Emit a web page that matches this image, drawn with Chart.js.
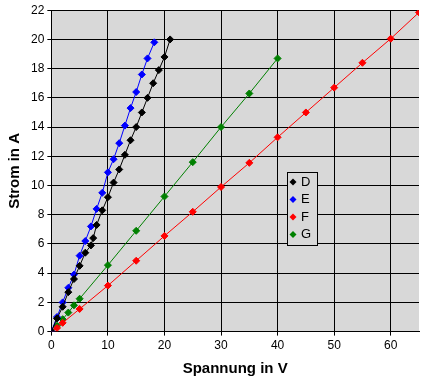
<!DOCTYPE html>
<html>
<head>
<meta charset="utf-8">
<script src="https://cdn.jsdelivr.net/npm/chart.js@4/dist/chart.umd.min.js"></script>
<style>
  html, body { margin: 0; padding: 0; background: #fff; }
  #wrap { width: 427px; height: 384px; }
</style>
</head>
<body>
<div id="wrap"><canvas id="chart"></canvas></div>
<script>
// Spannung (V) / Strom (A) per series
const d_volt = [0, 1, 2, 3, 4, 5, 6, 7, 7.4, 8, 9, 10, 11, 12, 13, 14, 15, 16, 17, 18, 19, 20, 21];
const d_amp  = [0, 0.9, 1.7, 2.7, 3.6, 4.5, 5.4, 5.9, 6.4, 7.3, 8.3, 9.2, 10.2, 11.1, 12.1, 13.1, 14.0, 15.0, 16.0, 17.0, 17.9, 18.8, 20.0];
const e_volt = [0, 1, 2, 3, 4, 5, 6, 7, 8, 9, 10, 11, 12, 13, 14, 15, 16, 17, 18.2];
const e_amp  = [0, 1.0, 2.0, 3.0, 3.9, 5.2, 6.2, 7.2, 8.4, 9.5, 10.9, 11.8, 12.9, 14.1, 15.3, 16.4, 17.6, 18.7, 19.8];
const f_volt = [0, 1, 2, 5, 10, 15, 20, 25, 30, 35, 40, 45, 50, 55, 60, 65];
const f_amp  = [0, 0.25, 0.6, 1.55, 3.15, 4.85, 6.55, 8.2, 9.9, 11.55, 13.3, 15.0, 16.7, 18.4, 20.05, 21.85];
const g_volt = [0, 1, 2, 3, 4, 5, 10, 15, 20, 25, 30, 35, 40];
const g_amp  = [0, 0.4, 0.85, 1.3, 1.8, 2.25, 4.55, 6.9, 9.25, 11.6, 14.0, 16.3, 18.7];

const x_ticks = [0, 10, 20, 30, 40, 50, 60];

const names  = ['D', 'E', 'F', 'G'];
const colors = ['#000000', '#0000ff', '#ff0000', '#008000'];
const xs = [d_volt, e_volt, f_volt, g_volt];
const ys = [d_amp, e_amp, f_amp, g_amp];

const datasets = names.map((n, i) => ({
  label: n,
  data: xs[i].map((v, j) => ({ x: v, y: ys[i][j] })),
  borderColor: colors[i],
  backgroundColor: colors[i],
  borderWidth: 1,
  showLine: true,
  pointStyle: 'rectRot',
  pointRadius: 3.5,
  pointBorderColor: colors[i],
  pointBackgroundColor: colors[i]
}));

const plotBg = {
  id: 'plotBg',
  beforeDraw(chart) {
    const { ctx, chartArea: a } = chart;
    ctx.save();
    ctx.fillStyle = '#d8d8d8';
    ctx.fillRect(a.left, a.top, a.right - a.left, a.bottom - a.top);
    ctx.restore();
  }
};

// legend box sitting inside the plot
const boxLegend = {
  id: 'boxLegend',
  afterDraw(chart) {
    const ctx = chart.ctx;
    const x0 = 287, y0 = 172, w = 30, h = 73;
    ctx.save();
    ctx.fillStyle = '#d8d8d8';
    ctx.fillRect(x0, y0, w, h);
    ctx.strokeStyle = '#000';
    ctx.lineWidth = 1;
    ctx.strokeRect(x0 + 0.5, y0 + 0.5, w, h);
    ctx.font = '13px "Liberation Sans", Arial, sans-serif';
    ctx.textBaseline = 'middle';
    names.forEach((n, i) => {
      const cy = y0 + 10 + i * 17.5;
      ctx.fillStyle = colors[i];
      ctx.beginPath();
      ctx.moveTo(293, cy - 3.5);
      ctx.lineTo(296.5, cy);
      ctx.lineTo(293, cy + 3.5);
      ctx.lineTo(289.5, cy);
      ctx.closePath();
      ctx.fill();
      ctx.fillStyle = '#000';
      ctx.fillText(n, 301, cy);
    });
    ctx.restore();
  }
};

new Chart(document.getElementById('chart'), {
  type: 'scatter',
  data: { datasets: datasets },
  plugins: [plotBg, boxLegend],
  options: {
    responsive: true,
    maintainAspectRatio: false,
    animation: false,
    layout: { padding: { top: 8, right: 8, left: 2, bottom: 2 } },
    plugins: { legend: { display: false }, tooltip: { enabled: false } },
    scales: {
      x: {
        type: 'linear',
        min: 0, max: 65,
        afterBuildTicks: axis => { axis.ticks = x_ticks.map(v => ({ value: v })); },
        ticks: { color: '#000', font: { family: '"Liberation Sans", Arial, sans-serif', size: 12 } },
        grid: { color: '#000', lineWidth: 1, tickLength: 4 },
        border: { color: '#000' },
        title: { display: true, text: 'Spannung in V', color: '#000', font: { family: '"Liberation Sans", Arial, sans-serif', size: 15, weight: 'bold' }, padding: { top: 4 } }
      },
      y: {
        min: 0, max: 22,
        ticks: { stepSize: 2, color: '#000', font: { family: '"Liberation Sans", Arial, sans-serif', size: 12 } },
        grid: { color: '#000', lineWidth: 1, tickLength: 4 },
        border: { color: '#000' },
        title: { display: true, text: 'Strom in A', color: '#000', font: { family: '"Liberation Sans", Arial, sans-serif', size: 15, weight: 'bold' }, padding: { bottom: 4 } }
      }
    }
  }
});
</script>
</body>
</html>
